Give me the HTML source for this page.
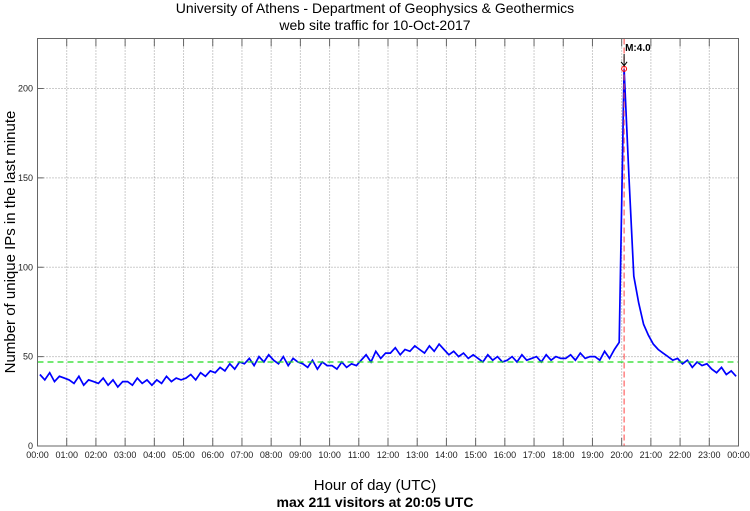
<!DOCTYPE html>
<html><head><meta charset="utf-8"><style>
body{margin:0;background:#fff}
svg{display:block;font-family:"Liberation Sans",sans-serif}
</style></head><body>
<svg id="chart" width="750" height="511">
<text x="375" y="13" font-size="14" text-anchor="middle">University of Athens - Department of Geophysics &amp; Geothermics</text>
<text x="375" y="30" font-size="14" text-anchor="middle">web site traffic for 10-Oct-2017</text>
<text x="375" y="490" font-size="15" text-anchor="middle">Hour of day (UTC)</text>
<text x="375" y="507" font-size="14" font-weight="bold" text-anchor="middle">max 211 visitors at 20:05 UTC</text>
<text transform="translate(15,242) rotate(-90)" font-size="15" text-anchor="middle">Number of unique IPs in the last minute</text>
<g id="grid"></g><g id="series"></g><g id="axes"></g>
</svg>
<script>
const hourLabels=["00:00","01:00","02:00","03:00","04:00","05:00","06:00","07:00","08:00","09:00","10:00","11:00","12:00","13:00","14:00","15:00","16:00","17:00","18:00","19:00","20:00","21:00","22:00","23:00","00:00"];
const yTicks=[0,50,100,150,200];
const visitors=[40,37,41,36,39,38, 37,35,39,34,37,36, 35,38,34,37,33,36, 36,34,38,35,37,34,
37,35,39,36,38,37, 38,40,37,41,39,42, 41,44,42,46,43,47, 46,49,45,50,47,51,
48,46,50,45,49,47, 46,44,48,43,47,45, 45,43,47,44,46,45, 48,51,47,53,49,52,
52,55,51,54,53,56, 54,52,56,53,57,54, 51,53,50,52,49,51, 49,47,51,48,50,47,
48,50,47,51,48,49, 50,47,51,48,50,49, 49,51,48,52,49,50, 50,48,53,49,54,58,
211,150,95,80,68,62, 57,54,52,50,48,49, 46,48,44,47,45,46, 43,41,44,40,42,39];
const meanLevel=[47];
const peakValue=[211];
const peakMinute=[1205];
const L=37.5,R=738.5,T=38.5,B=446;
const xS=m=>L+(R-L)*m/1440;
const yS=v=>B-(B-88.5)*v/200;
const NS="http://www.w3.org/2000/svg";
function mk(tag,attrs,parent){const e=document.createElementNS(NS,tag);for(const k in attrs)e.setAttribute(k,attrs[k]);parent.appendChild(e);return e;}
const grid=document.getElementById('grid'),axes=document.getElementById('axes'),series=document.getElementById('series');
hourLabels.forEach((lab,i)=>{const x=xS(i*60);
 if(i>0&&i<24){const g=mk('line',{x1:x,x2:x,y1:T,y2:B,stroke:'#999','stroke-dasharray':'1,2','stroke-width':1},grid);
 }
 const t1=mk('line',{x1:x,x2:x,y1:B,y2:B-8,stroke:'#666','stroke-width':1},axes);
 
 const t2=mk('line',{x1:x,x2:x,y1:T,y2:T+8,stroke:'#666','stroke-width':1},axes);
 
 const tx=mk('text',{x:x,y:458,'font-size':9,'text-anchor':'middle',fill:'#222'},axes);tx.textContent=lab;
 });
yTicks.forEach(v=>{const y=yS(v);
 if(v>0){const g=mk('line',{x1:L,x2:R,y1:y,y2:y,stroke:'#999','stroke-dasharray':'1,2','stroke-width':1},grid);
 }
 const t=mk('line',{x1:L,x2:L+6,y1:y,y2:y,stroke:'#666'},axes);
 
 const tx=mk('text',{x:33,y:y+3,'font-size':9,'text-anchor':'end',fill:'#222'},axes);tx.textContent=v;
 });
const fr=mk('rect',{x:L,y:T,width:R-L,height:B-T,fill:'none',stroke:'#666','stroke-width':1},axes);

const pts=visitors.map((v,i)=>xS(i*10+5).toFixed(1)+','+yS(v).toFixed(1)).join(' ');
const line=mk('polyline',{points:pts,fill:'none',stroke:'#0000ff','stroke-width':1.7},series);

const ml=mk('line',{x1:L,x2:R,y1:yS(meanLevel[0]),y2:yS(meanLevel[0]),stroke:'#22dd22','stroke-dasharray':'6,4','stroke-width':1.2},series);

const px=xS(peakMinute[0]);
const el=mk('line',{x1:px,x2:px,y1:T,y2:B,stroke:'#ff4444','stroke-dasharray':'6,3','stroke-width':1},series);

const c=mk('circle',{cx:px,cy:yS(peakValue[0]),r:2.5,fill:'none',stroke:'#ff0000','stroke-width':1},series);

const ar=mk('line',{x1:px,x2:px,y1:54,y2:yS(peakValue[0])-3,stroke:'#000','stroke-width':1},series);

const ah=mk('path',{d:`M${px-3},${yS(peakValue[0])-7} L${px},${yS(peakValue[0])-3} L${px+3},${yS(peakValue[0])-7}`,fill:'none',stroke:'#000'},series);

const at=mk('text',{x:px+1,y:51,'font-size':10,'font-weight':'bold'},series);at.textContent='M:4.0';

</script>
</body></html>
